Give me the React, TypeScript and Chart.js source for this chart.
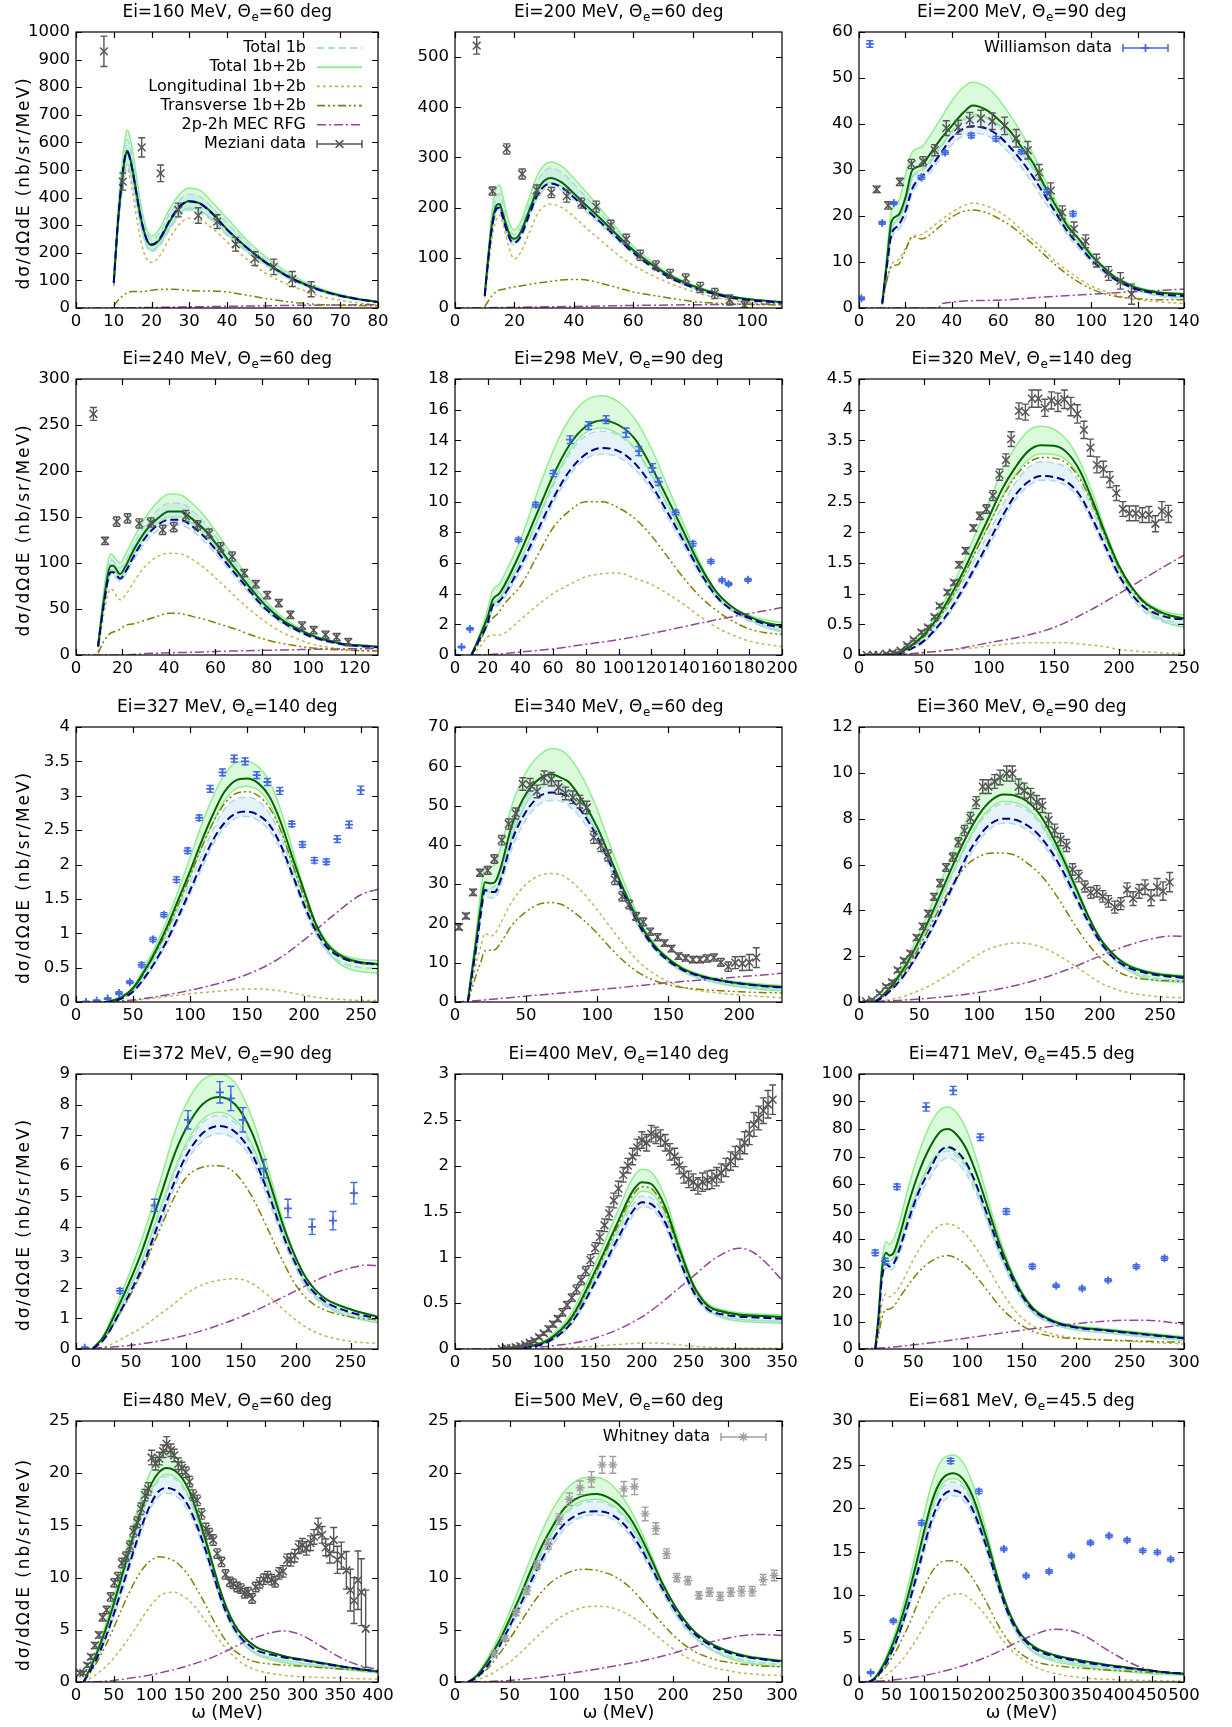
import React, { useEffect, useRef } from "react";
import { Chart, registerables } from "chart.js";
Chart.register(...registerables);

const FONT = "'DejaVu Sans', 'Noto Sans', sans-serif";

// ================= Panel 1: Ei=160 MeV, 60 deg =================
const p1_w = [10, 11, 12, 13, 13.5, 14, 15, 16, 17, 18, 19, 20, 22, 25, 28, 30, 33, 36, 40, 45, 50, 55, 60, 65, 70, 75, 80];
const p1_c2 = [90, 290, 440, 545, 570, 560, 500, 420, 340, 280, 240, 228, 245, 318, 372, 388, 378, 345, 285, 222, 168, 124, 90, 64, 45, 32, 22];
const p1_c1 = [92, 295, 445, 550, 565, 555, 495, 415, 337, 278, 240, 230, 248, 322, 376, 386, 376, 343, 284, 221, 167, 123, 89, 63, 44, 31, 21];
const p1_gh = [95, 330, 500, 610, 645, 635, 570, 480, 390, 320, 275, 260, 285, 365, 420, 435, 425, 385, 325, 250, 188, 138, 98, 70, 48, 34, 24];
const p1_gl = [80, 270, 410, 500, 520, 515, 460, 385, 310, 255, 220, 210, 228, 295, 348, 362, 352, 322, 268, 210, 160, 118, 85, 60, 42, 30, 20];
const p1_bh = [88, 310, 470, 580, 610, 600, 540, 455, 370, 305, 262, 248, 270, 345, 398, 412, 402, 365, 308, 238, 178, 130, 93, 66, 46, 33, 23];
const p1_bl = [78, 262, 398, 488, 508, 503, 448, 376, 303, 248, 214, 204, 222, 288, 340, 355, 345, 316, 263, 206, 157, 116, 83, 59, 41, 29, 20];
const p1_lo = [80, 280, 420, 495, 505, 490, 420, 330, 255, 200, 172, 165, 185, 258, 312, 325, 318, 290, 240, 180, 128, 92, 65, 42, 28, 18, 12];
const p1_tr = [8, 25, 40, 50, 55, 58, 60, 60, 59, 60, 62, 64, 67, 68, 66, 63, 62, 62, 58, 47, 35, 25, 17, 12, 10, 9, 8];
const p1_mw = [0, 10, 20, 30, 40, 50, 60, 70, 80];
const p1_mec = [0, 0.5, 2, 4, 6, 8, 10, 11, 12];
const p1_mzX = [7.4, 12.4, 17.4, 22.4, 27.1, 32.4, 37.4, 42.3, 47.4, 52.4, 57.3, 62.3];
const p1_mzY = [930, 458, 582, 488, 355, 335, 313, 231, 179, 149, 105, 68];
const p1_mzE = [55, 31, 35, 30, 25, 28, 25, 25, 25, 28, 27, 27];

// ================= Panel 2: Ei=200 MeV, 60 deg =================
const p2_w = [10, 11, 12.5, 14, 15, 16, 17.5, 19, 20, 22, 25, 28, 32, 36, 40, 45, 50, 55, 60, 70, 80, 90, 100, 110];
const p2_c2 = [25, 90, 170, 205, 207, 190, 160, 140, 138, 150, 195, 238, 259, 250, 228, 200, 172, 143, 115, 72, 44, 26, 17, 12];
const p2_c1 = [24, 85, 162, 198, 200, 182, 152, 132, 130, 142, 186, 228, 248, 240, 220, 192, 165, 137, 110, 68, 41, 24, 15, 11];
const p2_gh = [28, 100, 195, 240, 245, 225, 185, 160, 155, 170, 220, 268, 291, 282, 258, 225, 190, 155, 123, 76, 46, 27, 17, 12];
const p2_gl = [24, 85, 165, 200, 202, 185, 155, 135, 133, 145, 188, 230, 250, 242, 222, 194, 167, 139, 112, 70, 42, 25, 16, 11];
const p2_bh = [26, 95, 180, 222, 228, 210, 172, 150, 147, 160, 207, 255, 279, 270, 247, 215, 182, 150, 118, 73, 44, 26, 16, 11];
const p2_bl = [22, 80, 155, 190, 195, 178, 148, 128, 126, 138, 180, 222, 242, 234, 214, 187, 160, 133, 107, 66, 39, 23, 14, 10];
const p2_lo = [20, 70, 140, 178, 185, 170, 135, 105, 98, 110, 150, 190, 207, 200, 182, 155, 130, 105, 85, 55, 33, 18, 11, 8];
const p2_tr = [3, 12, 25, 33, 36, 37, 39, 41, 42, 44, 47, 50, 53, 56, 57, 55, 48, 40, 32, 22, 13, 9, 7, 6];
const p2_mw = [0, 10, 20, 40, 60, 80, 100, 110];
const p2_mec = [0, 0.5, 1.5, 3, 5, 6.5, 7.5, 8];
const p2_mzX = [7.3, 12.6, 17.4, 22.6, 27.5, 32.4, 37.6, 42.5, 47.5, 52.4, 57.6, 62.3, 67.6, 72.4, 77.6, 82.5, 87.4, 92.4, 97.4];
const p2_mzY = [523, 233, 317, 267, 235, 230, 223, 209, 202, 165, 137, 105, 85, 68, 59, 41, 29, 16, 6];
const p2_mzE = [17, 8, 10, 10, 10, 10, 12, 10, 11, 10, 10, 10, 9, 9, 9, 10, 10, 10, 8];

// ================= Panel 3: Ei=200 MeV, 90 deg =================
const p3_w = [10, 12, 14, 17, 20, 23, 27, 30, 35, 40, 45, 49, 55, 60, 65, 70, 75, 80, 85, 90, 95, 100, 105, 110, 115, 120, 130, 140];
const p3_c2 = [1, 10, 18.8, 20.2, 24, 30, 31, 33, 36.6, 39.6, 42.5, 44, 43, 41, 38.5, 35, 31.5, 26.5, 22, 17.7, 14.8, 11.5, 9, 6.8, 5.4, 4.3, 3.3, 3.0];
const p3_c1 = [1, 9, 16, 18, 21, 26, 28.5, 30, 33.5, 37, 39, 39.5, 39, 37.5, 35, 32, 28.5, 24.5, 20.5, 16.5, 13.5, 10.5, 8.3, 6.3, 5, 4, 3, 2.6];
const p3_gh = [1, 12, 21, 23, 29, 34, 35, 37, 41, 45, 48, 49.1, 48, 45.5, 42, 38, 33.5, 28, 23, 18.5, 15, 12, 9.2, 7, 5.6, 4.5, 3.5, 3.2];
const p3_gl = [1, 9.5, 17, 19.5, 22.5, 28.5, 30, 31.5, 35, 38.5, 41, 42, 41.5, 40, 37.5, 34, 30.5, 25.5, 21, 17, 14, 11, 8.7, 6.5, 5.1, 4, 2.8, 2.3];
const p3_bh = [1, 9.3, 16.8, 19.2, 22.2, 28.2, 29.7, 31.2, 34.7, 38.2, 40.7, 41.7, 41.2, 39.7, 37.2, 33.7, 30.2, 25.2, 20.8, 16.8, 13.8, 10.8, 8.5, 6.4, 5.0, 3.9, 2.7, 2.2];
const p3_bl = [0.8, 8.5, 15, 17, 19.5, 25, 27.5, 29, 32.5, 35.5, 37.5, 38, 37.5, 36, 33.5, 30.5, 27, 23, 19.5, 15.7, 12.7, 10, 7.8, 6, 4.7, 3.7, 2.5, 2.0];
const p3_lo = [0.8, 6, 9.5, 10.5, 13, 15.5, 16, 17, 19, 20.8, 22.2, 22.8, 22.2, 21, 19.3, 17, 14.8, 12.5, 10, 8, 6.3, 4.8, 3.8, 3, 2.2, 1.8, 1.3, 1.0];
const p3_tr = [0.8, 6, 9, 9.5, 12.5, 15.5, 15, 15.7, 17.8, 19.8, 21, 21.3, 20.7, 19.5, 18, 16, 13.8, 11.5, 9.2, 7.2, 5.5, 4.2, 3.2, 2.6, 2.2, 2.0, 1.8, 1.8];
const p3_mw = [0, 34, 36, 60, 80, 100, 120, 140];
const p3_mec = [0, 0, 1, 1.7, 2.4, 3.0, 3.6, 4.1];
const p3_mzX = [7.6, 12.6, 17.6, 22.6, 27.6, 32.6, 37.6, 42.7, 47.7, 52.5, 57.4, 62.7, 67.7, 72.7, 77.6, 82.6, 87.6, 92.6, 97.6, 102.3, 107.5, 112.6, 117.4];
const p3_mzY = [25.8, 22.3, 27.4, 31.3, 31.9, 34.3, 39.1, 39.3, 40.9, 41.2, 40.6, 39.6, 36.9, 34.3, 29.5, 25.5, 20.8, 17.2, 14.5, 10.3, 7.5, 5.9, 3.0];
const p3_mzE = [0.7, 0.8, 0.8, 1.0, 1.0, 1.2, 1.6, 1.5, 1.6, 1.8, 1.8, 1.9, 1.9, 1.9, 1.7, 1.7, 1.4, 1.5, 1.4, 1.4, 1.5, 1.8, 2.2];
const p3_wiX = [1.0, 4.7, 10, 15, 26.8, 37.1, 48.4, 59, 70, 81, 92.2];
const p3_wiY = [2.1, 57.4, 18.5, 22.8, 28.4, 33.8, 37.5, 36.8, 34.0, 25.2, 20.5];
const p3_wiE = [0.3, 0.7, 0.3, 0.3, 0.4, 0.4, 0.5, 0.5, 0.4, 0.5, 0.5];

// ================= Panel 4: Ei=240 MeV, 60 deg =================
const p4_w = [9.5, 12, 15, 16, 19, 21, 25, 30, 35, 40, 45, 50, 55, 60, 65, 70, 75, 80, 85, 90, 95, 100, 105, 110, 115, 120, 130];
const p4_c2 = [10, 60, 97, 97, 88, 95, 115, 135, 148, 156, 156, 148, 137, 122, 105, 89, 73, 58, 46, 36, 29, 23, 18, 15, 12, 11, 9];
const p4_c1 = [9, 55, 90, 90, 83, 89, 108, 128, 141, 147, 147, 140, 129, 115, 99, 84, 69, 54, 43, 34, 27, 21, 17, 14, 11.5, 10, 8.5];
const p4_gh = [11, 70, 110, 108, 100, 108, 128, 150, 166, 175, 174, 165, 152, 135, 117, 99, 81, 64, 50, 39, 31, 24, 19, 15.5, 12.5, 11, 9];
const p4_gl = [9, 55, 92, 92, 85, 91, 110, 130, 143, 150, 150, 143, 132, 118, 102, 86, 71, 56, 44, 35, 28, 22, 17.5, 14, 11.5, 10, 8.5];
const p4_bh = [10, 65, 104, 102, 95, 101, 121, 142, 157, 165, 165, 157, 145, 129, 112, 94, 77, 61, 48, 37, 30, 23, 18, 15, 12, 10.5, 8.5];
const p4_bl = [8, 52, 86, 86, 80, 86, 104, 123, 135, 141, 141, 135, 124, 110, 95, 80, 66, 52, 41, 32, 26, 20, 16, 13, 11, 9.5, 8];
const p4_lo = [3, 45, 72, 70, 60, 64, 80, 97, 107, 110.5, 110, 104, 95, 84, 72, 60, 49, 39, 30, 23, 18, 13, 10, 8, 6, 5, 4];
const p4_tr = [2, 15, 24, 25, 28, 32, 34, 38, 42, 45.5, 45, 42, 39, 35, 31, 27, 22, 18, 14.5, 12, 10, 8, 7, 6, 5.5, 5, 4.5];
const p4_mw = [0, 20, 30, 50, 70, 90, 110, 130];
const p4_mec = [0, 0, 1.5, 3, 4.5, 5.5, 6.5, 7];
const p4_mzX = [7.5, 12.5, 17.5, 22.2, 27.2, 32.2, 37.3, 42.1, 47.3, 52.3, 57.3, 62.2, 67.2, 72.4, 77.4, 82.3, 87.3, 92.3, 97.3, 102.3, 107.4, 112.2, 117.2];
const p4_mzY = [262, 124, 145, 148.5, 143, 144, 136, 139, 151, 141, 132, 117, 107, 89, 77, 65, 56.5, 43.5, 32, 27, 22, 19.5, 14];
const p4_mzE = [7, 4, 5, 5, 5, 5, 5, 5, 6, 5, 5, 5, 5, 4, 4, 4, 4, 4, 4, 4, 4, 4, 4];

// ================= Panel 5: Ei=298 MeV, 90 deg =================
const p5_w = [10, 15, 20, 23, 27, 30, 40, 50, 60, 70, 80, 90, 100, 110, 120, 130, 140, 150, 160, 170, 180, 190, 200];
const p5_c2 = [0, 1.2, 2.5, 3.6, 4.0, 4.5, 6.7, 9.2, 11.7, 13.7, 14.9, 15.3, 15.0, 14.1, 12.3, 10.2, 8.0, 5.8, 4.1, 3.1, 2.5, 2.1, 1.9];
const p5_c1 = [0, 1.0, 2.1, 3.2, 3.5, 3.9, 5.8, 8.0, 10.2, 12.0, 13.1, 13.5, 13.3, 12.5, 11.1, 9.3, 7.4, 5.4, 3.8, 2.9, 2.4, 2.0, 1.8];
const p5_gh = [0, 1.3, 3.0, 4.2, 4.6, 5.2, 7.5, 10.5, 13.3, 15.4, 16.6, 16.9, 16.5, 15.4, 13.5, 11.0, 8.5, 6.0, 4.1, 3.1, 2.6, 2.3, 2.1];
const p5_gl = [0, 1.1, 2.4, 3.3, 3.7, 4.2, 6.2, 8.7, 11.2, 13.3, 14.5, 14.8, 14.4, 13.5, 11.8, 9.8, 7.7, 5.6, 3.9, 2.9, 2.3, 1.8, 1.5];
const p5_bh = [0, 1.1, 2.3, 3.2, 3.6, 4.1, 6.1, 8.6, 11.0, 13.1, 14.3, 14.6, 14.3, 13.4, 11.7, 9.7, 7.6, 5.5, 3.9, 2.9, 2.3, 1.9, 1.6];
const p5_bl = [0, 0.9, 2.0, 3.0, 3.3, 3.7, 5.5, 7.7, 9.9, 11.7, 12.8, 13.1, 12.9, 12.1, 10.8, 9.0, 7.1, 5.2, 3.7, 2.8, 2.2, 1.8, 1.5];
const p5_lo = [0, 0.5, 1.2, 1.3, 1.3, 1.4, 2.3, 3.2, 4.0, 4.6, 5.1, 5.3, 5.35, 5.0, 4.6, 4.0, 3.3, 2.5, 1.8, 1.3, 0.9, 0.7, 0.55];
const p5_tr = [0, 0.8, 2.0, 2.4, 2.8, 3.3, 4.5, 6.4, 8.3, 9.4, 10.0, 10.0, 9.6, 8.9, 7.8, 6.4, 5.0, 3.8, 2.9, 2.2, 1.7, 1.45, 1.35];
const p5_mw = [0, 20, 40, 60, 80, 100, 120, 140, 160, 180, 200];
const p5_mec = [0, 0.02, 0.2, 0.4, 0.7, 1.0, 1.4, 1.85, 2.3, 2.7, 3.1];
const p5_wiX = [0, 4, 9.2, 38.8, 49.4, 60.2, 70.4, 81.6, 92.4, 104.7, 112.4, 120.8, 124.5, 135, 145.5, 156.5, 163.3, 167.3, 179.2];
const p5_wiY = [0, 0.52, 1.7, 7.52, 9.8, 11.83, 14.04, 14.96, 15.35, 14.5, 13.3, 12.2, 11.3, 9.3, 7.26, 6.1, 4.87, 4.63, 4.9];
const p5_wiE = [0.03, 0.05, 0.08, 0.12, 0.15, 0.2, 0.25, 0.25, 0.25, 0.3, 0.3, 0.28, 0.25, 0.15, 0.15, 0.12, 0.1, 0.1, 0.1];

// ================= Panel 6: Ei=320 MeV, 140 deg =================
const p6_w = [20, 30, 40, 50, 60, 70, 80, 90, 100, 110, 120, 130, 140, 150, 160, 170, 180, 190, 200, 210, 220, 230, 240, 250];
const p6_c2 = [0, 0.04, 0.15, 0.33, 0.6, 0.95, 1.35, 1.8, 2.25, 2.7, 3.05, 3.32, 3.42, 3.41, 3.3, 3.0, 2.5, 1.95, 1.45, 1.1, 0.85, 0.72, 0.64, 0.6];
const p6_c1 = [0, 0.02, 0.1, 0.23, 0.45, 0.73, 1.08, 1.46, 1.85, 2.25, 2.6, 2.82, 2.92, 2.9, 2.82, 2.6, 2.2, 1.75, 1.3, 0.98, 0.77, 0.66, 0.6, 0.58];
const p6_gh = [0, 0.05, 0.17, 0.37, 0.67, 1.05, 1.5, 2.0, 2.5, 3.0, 3.38, 3.65, 3.73, 3.68, 3.5, 3.15, 2.62, 2.0, 1.47, 1.1, 0.88, 0.75, 0.68, 0.65];
const p6_gl = [0, 0.035, 0.14, 0.3, 0.56, 0.88, 1.27, 1.7, 2.13, 2.57, 2.93, 3.18, 3.28, 3.27, 3.17, 2.9, 2.43, 1.88, 1.38, 1.02, 0.75, 0.6, 0.5, 0.45];
const p6_bh = [0, 0.03, 0.13, 0.28, 0.52, 0.83, 1.2, 1.6, 2.0, 2.42, 2.8, 3.05, 3.15, 3.13, 3.05, 2.8, 2.35, 1.82, 1.33, 1.0, 0.75, 0.62, 0.55, 0.5];
const p6_bl = [0, 0.02, 0.09, 0.21, 0.42, 0.69, 1.03, 1.4, 1.78, 2.17, 2.52, 2.75, 2.85, 2.84, 2.75, 2.53, 2.13, 1.68, 1.25, 0.92, 0.7, 0.57, 0.5, 0.47];
const p6_lo = [0, 0.01, 0.02, 0.04, 0.06, 0.08, 0.1, 0.12, 0.15, 0.17, 0.19, 0.2, 0.2, 0.2, 0.2, 0.18, 0.16, 0.13, 0.09, 0.07, 0.05, 0.04, 0.03, 0.03];
const p6_tr = [0, 0.03, 0.13, 0.3, 0.55, 0.88, 1.27, 1.7, 2.12, 2.55, 2.9, 3.13, 3.22, 3.21, 3.12, 2.87, 2.43, 1.9, 1.42, 1.07, 0.83, 0.7, 0.62, 0.58];
const p6_mw = [0, 25, 50, 75, 100, 125, 150, 175, 200, 225, 250];
const p6_mec = [0, 0.005, 0.04, 0.1, 0.2, 0.3, 0.45, 0.7, 1.0, 1.32, 1.63];
const p6_mzX = [6, 11, 15, 21, 26, 32, 37, 42, 48, 53, 58, 62, 68, 73, 77, 82, 88, 93, 98, 103, 108, 113, 117, 123, 128, 133, 138, 143, 148, 153, 158, 163, 168, 173, 178, 183, 188, 193, 198, 203, 208, 213, 218, 223, 228, 233, 238];
const p6_mzY = [0, 0, 0, 0.02, 0.04, 0.07, 0.16, 0.25, 0.37, 0.45, 0.62, 0.8, 1.02, 1.18, 1.47, 1.7, 2.07, 2.27, 2.38, 2.6, 2.94, 3.18, 3.52, 3.98, 3.96, 4.18, 4.18, 4.03, 4.15, 4.12, 4.17, 4.05, 3.93, 3.67, 3.38, 3.1, 3.03, 2.86, 2.64, 2.38, 2.31, 2.31, 2.28, 2.29, 2.14, 2.35, 2.3];
const p6_mzE = [0.01, 0.01, 0.01, 0.01, 0.02, 0.02, 0.02, 0.02, 0.03, 0.03, 0.03, 0.03, 0.04, 0.04, 0.05, 0.05, 0.05, 0.06, 0.07, 0.08, 0.09, 0.1, 0.12, 0.13, 0.13, 0.14, 0.14, 0.14, 0.14, 0.15, 0.15, 0.15, 0.15, 0.14, 0.14, 0.13, 0.13, 0.13, 0.12, 0.12, 0.12, 0.12, 0.12, 0.13, 0.13, 0.15, 0.14];

// ================= Panel 7: Ei=327 MeV, 140 deg =================
const p7_w = [25, 30, 40, 50, 60, 70, 80, 90, 100, 110, 120, 130, 140, 150, 160, 170, 180, 190, 200, 210, 220, 230, 240, 250, 265];
const p7_c2 = [0, 0.01, 0.07, 0.2, 0.45, 0.75, 1.1, 1.5, 1.9, 2.33, 2.72, 3.05, 3.22, 3.25, 3.18, 2.98, 2.6, 2.1, 1.62, 1.15, 0.85, 0.7, 0.62, 0.58, 0.55];
const p7_c1 = [0, 0.005, 0.05, 0.15, 0.35, 0.6, 0.9, 1.25, 1.62, 2.0, 2.35, 2.6, 2.74, 2.77, 2.72, 2.57, 2.27, 1.85, 1.42, 1.05, 0.8, 0.67, 0.6, 0.57, 0.55];
const p7_gh = [0, 0.01, 0.08, 0.22, 0.5, 0.82, 1.2, 1.63, 2.1, 2.57, 2.98, 3.3, 3.48, 3.5, 3.42, 3.2, 2.78, 2.22, 1.65, 1.17, 0.88, 0.72, 0.65, 0.62, 0.6];
const p7_gl = [0, 0.01, 0.06, 0.18, 0.42, 0.7, 1.03, 1.41, 1.82, 2.23, 2.6, 2.92, 3.1, 3.14, 3.08, 2.88, 2.5, 2.0, 1.5, 1.07, 0.75, 0.57, 0.48, 0.44, 0.42];
const p7_bh = [0, 0.01, 0.06, 0.17, 0.4, 0.67, 0.99, 1.35, 1.74, 2.13, 2.5, 2.8, 2.95, 2.98, 2.92, 2.74, 2.4, 1.92, 1.45, 1.04, 0.76, 0.6, 0.53, 0.5, 0.48];
const p7_bl = [0, 0.005, 0.045, 0.14, 0.33, 0.57, 0.86, 1.2, 1.56, 1.93, 2.28, 2.53, 2.67, 2.7, 2.64, 2.49, 2.2, 1.79, 1.36, 0.99, 0.73, 0.6, 0.53, 0.5, 0.48];
const p7_lo = [0, 0.005, 0.01, 0.02, 0.04, 0.06, 0.08, 0.1, 0.12, 0.135, 0.15, 0.165, 0.18, 0.19, 0.19, 0.18, 0.16, 0.13, 0.1, 0.07, 0.05, 0.04, 0.03, 0.025, 0.02];
const p7_tr = [0, 0.01, 0.065, 0.19, 0.43, 0.72, 1.05, 1.43, 1.83, 2.24, 2.6, 2.88, 3.03, 3.06, 3.0, 2.82, 2.48, 2.0, 1.54, 1.12, 0.83, 0.68, 0.6, 0.56, 0.54];
const p7_mw = [0, 25, 50, 75, 100, 125, 150, 175, 200, 225, 250, 265];
const p7_mec = [0, 0.005, 0.03, 0.09, 0.17, 0.27, 0.4, 0.6, 0.9, 1.25, 1.56, 1.64];
const p7_wiX = [8.8, 18.1, 27.8, 37.7, 47.3, 57.6, 67.5, 77.1, 88.2, 97.9, 108.1, 117.7, 128.5, 138.8, 148.4, 158.6, 168, 178.8, 189.3, 198.7, 209.2, 219.7, 229.3, 239.6, 249.8];
const p7_wiY = [0, 0.02, 0.05, 0.13, 0.29, 0.54, 0.91, 1.27, 1.78, 2.2, 2.68, 3.1, 3.34, 3.54, 3.5, 3.3, 3.2, 3.07, 2.59, 2.29, 2.06, 2.04, 2.37, 2.58, 3.08];
const p7_wiE = [0.01, 0.01, 0.01, 0.02, 0.02, 0.03, 0.03, 0.03, 0.04, 0.04, 0.04, 0.05, 0.05, 0.05, 0.05, 0.05, 0.05, 0.05, 0.04, 0.04, 0.04, 0.04, 0.05, 0.05, 0.06];

// ================= Panel 8: Ei=340 MeV, 60 deg =================
const p8_w = [9, 12, 15, 18, 21, 25, 28, 32, 40, 50, 60, 68, 75, 80, 90, 100, 110, 120, 130, 140, 150, 160, 170, 180, 190, 200, 215, 230];
const p8_c2 = [0, 8, 16, 24, 30.5, 30.2, 30.5, 34, 45, 53, 57, 58, 57, 56, 51, 44.5, 36, 27.5, 20, 14.5, 11, 8.5, 7, 6, 5.3, 4.8, 4.2, 3.8];
const p8_c1 = [0, 7, 14, 22, 28.5, 28, 28, 31, 41, 48.5, 52.5, 53.3, 53, 52, 48, 42, 34.5, 26.5, 19.2, 14, 10.5, 8.2, 6.8, 5.9, 5.2, 4.7, 4.1, 3.7];
const p8_gh = [0, 9, 18, 28, 34.5, 34.5, 35, 39, 50, 58.5, 63, 64.5, 64, 62.5, 57, 49, 39, 29.5, 21, 15, 11.3, 8.8, 7.3, 6.3, 5.6, 5.1, 4.6, 4.2];
const p8_gl = [0, 7, 14, 22, 28, 28, 28, 31.5, 42, 50.5, 54.5, 55.5, 54.5, 53.5, 49, 43, 35, 26.5, 19.2, 13.8, 10.3, 7.8, 6.2, 5.2, 4.4, 3.8, 3.2, 2.8];
const p8_bh = [0, 7.5, 15, 23, 29, 29, 29.5, 33, 43.5, 52, 55.5, 56.3, 55.5, 54.5, 49.5, 43, 35, 26.5, 19.2, 14, 10.5, 8, 6.5, 5.5, 4.8, 4.3, 3.8, 3.4];
const p8_bl = [0, 6.5, 13, 21, 27, 26.5, 26.5, 29.5, 39, 46.5, 50.5, 51.3, 51, 50, 46, 40.5, 33.2, 25.5, 18.5, 13.4, 10, 7.7, 6.2, 5.3, 4.6, 4.1, 3.5, 3.1];
const p8_lo = [0, 5, 10, 14, 17.5, 16.8, 17.3, 20, 25.5, 30, 32.3, 32.7, 32.3, 31.2, 27.8, 23.5, 18.7, 14, 10, 7.2, 5.2, 3.8, 3, 2.5, 2.1, 1.8, 1.4, 1.1];
const p8_tr = [0, 3.5, 7, 10, 13, 13.2, 13.3, 15, 19.5, 23, 25, 25.3, 24.8, 23.8, 21, 17.5, 13.5, 10, 7.3, 5.5, 4.4, 3.7, 3.3, 3, 2.8, 2.6, 2.4, 2.3];
const p8_mw = [0, 10, 50, 100, 150, 200, 230];
const p8_mec = [0, 0.2, 1.5, 3.1, 4.9, 6.4, 7.3];
const p8_mzX = [2.8, 7.7, 12.7, 17.6, 23, 27.7, 32.9, 37.8, 42.7, 47.6, 52.8, 57.7, 62.7, 67.8, 72.8, 77.7, 82.8, 87.8, 92.7, 97.6, 102.6, 107.5, 112.4, 117.6, 122.5, 127.4, 132.4, 137.3, 142.5, 147.4, 152.3, 157.2, 162.2, 167.3, 172.3, 177.2, 182.1, 187, 192.2, 197.1, 202.1, 207, 211.9];
const p8_mzY = [19.1, 21.9, 27.9, 32.9, 33.5, 36.4, 41.2, 45.3, 48, 55.5, 55.3, 53.6, 57.1, 56.7, 54.6, 53.1, 52.1, 51, 49.5, 41.9, 39.8, 37.3, 31.2, 26.9, 24.8, 21.8, 20.4, 17.9, 16.5, 15, 13.6, 11.7, 11.2, 10.8, 10.8, 11.1, 11.3, 10.1, 9.0, 10.0, 9.8, 10.1, 11.3];
const p8_mzE = [0.7, 0.7, 0.8, 0.9, 1.0, 1.1, 1.2, 1.3, 1.4, 1.6, 1.6, 1.6, 1.7, 1.7, 1.7, 1.6, 1.6, 1.6, 1.6, 1.5, 1.5, 1.4, 1.3, 1.2, 1.1, 1.0, 1.0, 0.9, 0.9, 0.8, 0.8, 0.8, 0.8, 0.8, 0.8, 0.9, 0.9, 1.0, 1.2, 1.5, 1.8, 2.0, 2.5];

// ================= Panel 9: Ei=360 MeV, 90 deg =================
const p9_w = [13, 20, 30, 40, 50, 60, 70, 80, 90, 100, 110, 120, 130, 140, 150, 160, 170, 180, 190, 200, 210, 220, 230, 240, 250, 260, 270];
const p9_c2 = [0, 0.3, 0.9, 1.7, 2.7, 3.8, 5.0, 6.2, 7.3, 8.2, 8.8, 9.05, 9.0, 8.75, 8.2, 7.3, 6.2, 5.0, 3.8, 2.8, 2.15, 1.7, 1.45, 1.3, 1.2, 1.15, 1.1];
const p9_c1 = [0, 0.22, 0.7, 1.35, 2.2, 3.15, 4.2, 5.3, 6.4, 7.25, 7.8, 8.0, 7.95, 7.7, 7.25, 6.55, 5.65, 4.6, 3.55, 2.65, 2.0, 1.6, 1.38, 1.25, 1.15, 1.1, 1.05];
const p9_gh = [0, 0.35, 1.0, 1.9, 3.0, 4.2, 5.5, 6.8, 8.0, 9.0, 9.6, 9.8, 9.75, 9.4, 8.7, 7.7, 6.4, 5.1, 3.85, 2.8, 2.15, 1.75, 1.5, 1.35, 1.25, 1.2, 1.15];
const p9_gl = [0, 0.28, 0.85, 1.6, 2.55, 3.6, 4.75, 5.9, 7.0, 7.9, 8.5, 8.75, 8.7, 8.45, 7.9, 7.05, 6.0, 4.85, 3.7, 2.7, 2.0, 1.5, 1.2, 1.0, 0.92, 0.88, 0.85];
const p9_bh = [0, 0.27, 0.83, 1.57, 2.5, 3.55, 4.68, 5.8, 6.9, 7.8, 8.4, 8.65, 8.6, 8.35, 7.8, 6.95, 5.9, 4.75, 3.6, 2.65, 2.0, 1.55, 1.28, 1.12, 1.02, 0.97, 0.93];
const p9_bl = [0, 0.2, 0.66, 1.3, 2.12, 3.05, 4.08, 5.15, 6.2, 7.05, 7.6, 7.8, 7.75, 7.5, 7.05, 6.35, 5.45, 4.45, 3.42, 2.55, 1.92, 1.5, 1.25, 1.1, 1.0, 0.95, 0.92];
const p9_lo = [0, 0.05, 0.15, 0.3, 0.5, 0.75, 1.05, 1.4, 1.75, 2.1, 2.35, 2.5, 2.58, 2.55, 2.42, 2.2, 1.9, 1.55, 1.2, 0.85, 0.62, 0.45, 0.35, 0.28, 0.23, 0.2, 0.18];
const p9_tr = [0, 0.25, 0.8, 1.5, 2.4, 3.4, 4.4, 5.3, 6.0, 6.35, 6.5, 6.5, 6.4, 6.05, 5.6, 4.95, 4.15, 3.3, 2.55, 1.95, 1.5, 1.2, 1.05, 0.98, 0.94, 0.92, 0.9];
const p9_mw = [0, 25, 50, 75, 100, 125, 150, 175, 200, 225, 250, 260, 270];
const p9_mec = [0, 0.05, 0.13, 0.25, 0.42, 0.66, 1.0, 1.45, 2.0, 2.5, 2.83, 2.88, 2.87];
const p9_mzX = [5.8, 10.8, 17.1, 22.4, 27.4, 32.1, 37.3, 42.6, 47.8, 52.8, 57.5, 62.4, 67.4, 72.4, 77.9, 82.6, 87.6, 92.6, 97.3, 102.8, 107.5, 112.7, 117.2, 122.7, 127.4, 132.6, 137.3, 142.6, 147.6, 152.3, 157.5, 162.5, 167.5, 172.4, 177.4, 182.6, 187.6, 192.6, 197.6, 202.5, 207.2, 212.5, 217.5, 222.7, 227.7, 232.7, 237.6, 242.6, 247.6, 252.6, 258.1];
const p9_mzY = [0.03, 0.09, 0.38, 0.67, 0.87, 1.39, 1.8, 2.12, 2.81, 3.3, 3.86, 4.59, 5.19, 5.87, 6.32, 6.97, 7.48, 8.03, 8.7, 9.4, 9.4, 9.62, 9.8, 9.97, 9.97, 9.4, 9.22, 9.0, 8.71, 8.57, 7.94, 7.48, 7.09, 6.83, 5.78, 5.49, 5.04, 4.77, 4.83, 4.61, 4.39, 4.14, 4.29, 4.9, 4.51, 4.83, 5.01, 4.55, 5.01, 4.84, 5.23];
const p9_mzE = [0.03, 0.04, 0.06, 0.07, 0.08, 0.09, 0.1, 0.11, 0.12, 0.13, 0.14, 0.15, 0.16, 0.17, 0.18, 0.2, 0.22, 0.24, 0.26, 0.3, 0.3, 0.3, 0.32, 0.33, 0.33, 0.33, 0.33, 0.32, 0.3, 0.3, 0.3, 0.28, 0.27, 0.26, 0.25, 0.25, 0.24, 0.24, 0.25, 0.25, 0.25, 0.26, 0.26, 0.3, 0.3, 0.3, 0.32, 0.35, 0.38, 0.4, 0.42];

// ================= Panel 10: Ei=372 MeV, 90 deg =================
const p10_w = [15, 25, 40, 50, 60, 75, 90, 100, 115, 130, 145, 160, 175, 190, 200, 210, 225, 250, 275];
const p10_c2 = [0, 0.4, 1.5, 2.3, 3.2, 4.8, 6.4, 7.2, 8.0, 8.25, 8.0, 7.1, 5.6, 3.9, 3.0, 2.3, 1.7, 1.3, 1.05];
const p10_c1 = [0, 0.3, 1.2, 1.9, 2.65, 4.1, 5.5, 6.3, 7.05, 7.3, 7.1, 6.4, 5.1, 3.6, 2.8, 2.15, 1.6, 1.2, 1.0];
const p10_gh = [0, 0.45, 1.7, 2.6, 3.6, 5.3, 7.1, 8.0, 8.8, 9.0, 8.7, 7.6, 5.9, 4.0, 3.0, 2.3, 1.7, 1.3, 1.05];
const p10_gl = [0, 0.35, 1.35, 2.1, 2.9, 4.4, 5.9, 6.7, 7.5, 7.75, 7.5, 6.7, 5.3, 3.7, 2.8, 2.1, 1.5, 1.05, 0.85];
const p10_bh = [0, 0.34, 1.3, 2.05, 2.85, 4.3, 5.8, 6.6, 7.4, 7.65, 7.4, 6.6, 5.2, 3.65, 2.75, 2.1, 1.55, 1.15, 0.95];
const p10_bl = [0, 0.28, 1.1, 1.8, 2.5, 3.9, 5.3, 6.1, 6.8, 7.05, 6.85, 6.2, 4.9, 3.45, 2.65, 2.0, 1.45, 1.05, 0.88];
const p10_lo = [0, 0.05, 0.3, 0.5, 0.7, 1.1, 1.5, 1.8, 2.1, 2.25, 2.3, 2.15, 1.75, 1.25, 0.95, 0.7, 0.45, 0.25, 0.18];
const p10_tr = [0, 0.3, 1.2, 1.8, 2.55, 3.8, 5.0, 5.6, 5.95, 6.0, 5.75, 5.0, 3.9, 2.75, 2.1, 1.65, 1.3, 1.05, 0.95];
const p10_mw = [0, 50, 100, 150, 200, 225, 250, 265, 275];
const p10_mec = [0, 0.12, 0.45, 1.05, 1.9, 2.35, 2.65, 2.75, 2.72];
const p10_wiX = [8, 40, 71.5, 102, 131, 141, 152, 171, 193, 215, 234, 253];
const p10_wiY = [0.04, 1.9, 4.7, 7.5, 8.4, 8.2, 7.5, 5.9, 4.6, 4.0, 4.2, 5.1];
const p10_wiE = [0.03, 0.08, 0.2, 0.3, 0.35, 0.4, 0.4, 0.3, 0.3, 0.25, 0.3, 0.35];

// ================= Panel 11: Ei=400 MeV, 140 deg =================
const p11_w = [60, 80, 100, 125, 150, 175, 190, 200, 210, 225, 240, 255, 270, 290, 310, 330, 350];
const p11_c2 = [0, 0.03, 0.1, 0.35, 0.85, 1.4, 1.72, 1.82, 1.8, 1.55, 1.1, 0.7, 0.48, 0.4, 0.37, 0.36, 0.35];
const p11_c1 = [0, 0.02, 0.08, 0.29, 0.73, 1.22, 1.5, 1.6, 1.58, 1.38, 0.98, 0.63, 0.44, 0.37, 0.35, 0.34, 0.33];
const p11_gh = [0, 0.035, 0.12, 0.4, 0.93, 1.52, 1.86, 1.96, 1.93, 1.65, 1.15, 0.72, 0.5, 0.42, 0.39, 0.38, 0.37];
const p11_gl = [0, 0.025, 0.09, 0.32, 0.8, 1.32, 1.62, 1.72, 1.7, 1.47, 1.04, 0.65, 0.43, 0.33, 0.3, 0.29, 0.28];
const p11_bh = [0, 0.025, 0.09, 0.31, 0.77, 1.28, 1.57, 1.67, 1.65, 1.43, 1.01, 0.64, 0.43, 0.35, 0.32, 0.31, 0.3];
const p11_bl = [0, 0.02, 0.075, 0.27, 0.7, 1.17, 1.45, 1.55, 1.53, 1.33, 0.94, 0.6, 0.41, 0.34, 0.32, 0.31, 0.3];
const p11_lo = [0, 0.002, 0.005, 0.015, 0.03, 0.05, 0.06, 0.065, 0.065, 0.06, 0.045, 0.03, 0.02, 0.012, 0.01, 0.008, 0.007];
const p11_tr = [0, 0.03, 0.095, 0.33, 0.82, 1.36, 1.67, 1.77, 1.75, 1.5, 1.07, 0.68, 0.47, 0.39, 0.36, 0.35, 0.34];
const p11_mw = [0, 50, 100, 150, 200, 250, 280, 305, 320, 335, 350];
const p11_mec = [0, 0.005, 0.03, 0.12, 0.35, 0.75, 1.0, 1.1, 1.05, 0.92, 0.75];
const p11_mzX = [50, 55, 60, 65, 70, 75, 80, 85, 90, 95, 100, 105, 110, 115, 120, 125, 130, 135, 140, 145, 150, 155, 160, 165, 170, 175, 180, 185, 190, 195, 200, 205, 210, 215, 220, 225, 230, 235, 240, 245, 250, 255, 260, 265, 270, 275, 280, 285, 290, 295, 300, 305, 310, 315, 320, 325, 330, 335, 340];
const p11_mzY = [0, 0.01, 0.01, 0.02, 0.03, 0.05, 0.07, 0.09, 0.13, 0.17, 0.22, 0.27, 0.33, 0.4, 0.48, 0.56, 0.65, 0.75, 0.85, 0.97, 1.1, 1.22, 1.35, 1.48, 1.62, 1.75, 1.9, 2.0, 2.1, 2.2, 2.28, 2.25, 2.35, 2.33, 2.3, 2.25, 2.15, 2.1, 2.0, 1.9, 1.85, 1.82, 1.78, 1.82, 1.84, 1.85, 1.88, 1.92, 1.98, 2.05, 2.1, 2.18, 2.25, 2.35, 2.45, 2.52, 2.6, 2.67, 2.72];
const p11_mzE = [0.01, 0.01, 0.01, 0.01, 0.01, 0.01, 0.02, 0.02, 0.02, 0.02, 0.03, 0.03, 0.03, 0.04, 0.04, 0.04, 0.05, 0.05, 0.05, 0.06, 0.06, 0.07, 0.07, 0.07, 0.08, 0.08, 0.08, 0.08, 0.09, 0.09, 0.09, 0.09, 0.09, 0.09, 0.09, 0.09, 0.09, 0.09, 0.09, 0.09, 0.09, 0.09, 0.09, 0.1, 0.1, 0.1, 0.1, 0.1, 0.1, 0.1, 0.11, 0.11, 0.12, 0.12, 0.13, 0.13, 0.14, 0.15, 0.16];

// ================= Panel 12: Ei=471 MeV, 45.5 deg =================
const p12_w = [15, 18, 21, 25, 28, 32, 38, 45, 55, 65, 75, 82, 90, 100, 110, 120, 130, 145, 160, 180, 200, 225, 250, 275, 300];
const p12_c2 = [0, 12, 28, 35, 34, 35, 42, 52, 64, 73, 79, 80, 78, 72, 62, 50, 38, 24, 15, 10, 8, 7, 6, 5, 4];
const p12_c1 = [0, 10, 25, 31, 30, 31, 37, 46, 57, 65, 72, 73.5, 72, 67, 58, 47, 36, 23, 14.5, 9.8, 7.8, 6.8, 5.8, 4.8, 3.9];
const p12_gh = [0, 13, 31, 39, 38, 40, 47, 58, 71, 81, 87, 88, 86, 79, 67, 53, 40, 25, 15.5, 10.5, 8.5, 7.5, 6.5, 5.5, 4.5];
const p12_gl = [0, 11, 26, 33, 32, 33, 39, 48, 59, 67, 72, 73, 71, 66, 57, 46, 35, 22, 13.5, 9, 7, 6, 5, 4, 3.2];
const p12_bh = [0, 11, 26, 32, 31, 32, 38, 47, 58, 66, 71, 72, 70, 65, 56, 45, 34, 21.5, 13.5, 9, 7, 6, 5, 4, 3.2];
const p12_bl = [0, 9.5, 24, 29.5, 28.5, 29.5, 35, 44, 54.5, 62, 68, 69.5, 68, 63, 55, 44.5, 34, 21.5, 13.5, 9, 7, 6, 5, 4, 3.2];
const p12_lo = [0, 6, 16, 20, 19, 20, 23, 28.5, 36, 41.5, 45, 45.5, 44.5, 41, 35.5, 29, 22, 13.5, 8.5, 5.3, 4, 3.3, 2.8, 2.3, 1.8];
const p12_tr = [0, 5, 11, 14.5, 14.5, 15.5, 19, 23, 28, 31.5, 33.5, 34, 33, 30, 25.5, 20.5, 15.5, 10, 6.5, 4.5, 3.8, 3.3, 3, 2.7, 2.4];
const p12_mw = [0, 25, 50, 100, 150, 200, 250, 275, 300];
const p12_mec = [0, 0.5, 1.5, 4, 6.8, 9.2, 10.5, 10.2, 9];
const p12_wiX = [15, 24, 35, 62, 87, 112, 136, 160, 182, 206, 230, 256, 282];
const p12_wiY = [35, 32, 59, 88, 94, 77, 50, 30, 23, 22, 25, 30, 33];
const p12_wiE = [1, 1, 1, 1.5, 1.5, 1.2, 1, 0.8, 0.6, 0.6, 0.6, 0.7, 0.7];

// ================= Panel 13: Ei=480 MeV, 60 deg =================
const p13_w = [10, 20, 30, 40, 50, 60, 70, 80, 90, 100, 110, 120, 130, 140, 150, 160, 170, 180, 190, 200, 210, 220, 230, 240, 260, 280, 300, 320, 340, 360, 380, 400];
const p13_c2 = [0, 1.5, 3.2, 5.2, 7.5, 10.0, 12.5, 15.0, 17.2, 19.0, 20.1, 20.5, 20.3, 19.6, 18.3, 16.3, 14.0, 11.5, 9.0, 7.0, 5.5, 4.5, 3.8, 3.3, 2.8, 2.4, 2.15, 1.9, 1.65, 1.4, 1.2, 1.0];
const p13_c1 = [0, 1.2, 2.65, 4.4, 6.5, 8.8, 11.1, 13.4, 15.5, 17.2, 18.3, 18.6, 18.4, 17.8, 16.7, 15.0, 13.0, 10.7, 8.4, 6.5, 5.1, 4.1, 3.5, 3.0, 2.6, 2.3, 2.1, 1.85, 1.6, 1.4, 1.2, 1.0];
const p13_gh = [0, 1.7, 3.5, 5.7, 8.2, 10.9, 13.6, 16.2, 18.5, 20.4, 21.5, 21.9, 21.6, 20.8, 19.3, 17.0, 14.4, 11.7, 9.1, 7.0, 5.5, 4.5, 3.8, 3.3, 2.8, 2.4, 2.15, 1.9, 1.65, 1.4, 1.2, 1.05];
const p13_gl = [0, 1.4, 3.0, 4.9, 7.1, 9.5, 12.0, 14.4, 16.6, 18.4, 19.5, 19.9, 19.7, 19.0, 17.7, 15.8, 13.5, 11.0, 8.6, 6.6, 5.0, 3.9, 3.1, 2.6, 2.1, 1.8, 1.6, 1.45, 1.3, 1.15, 1.0, 0.85];
const p13_bh = [0, 1.35, 2.95, 4.85, 7.0, 9.4, 11.9, 14.3, 16.5, 18.2, 19.3, 19.7, 19.5, 18.8, 17.5, 15.6, 13.3, 10.8, 8.5, 6.5, 5.0, 3.9, 3.2, 2.7, 2.3, 2.0, 1.8, 1.6, 1.45, 1.3, 1.15, 1.0];
const p13_bl = [0, 1.1, 2.5, 4.2, 6.2, 8.4, 10.7, 13.0, 15.1, 16.8, 17.8, 18.1, 17.9, 17.3, 16.2, 14.6, 12.6, 10.3, 8.1, 6.2, 4.8, 3.8, 3.1, 2.7, 2.3, 2.0, 1.8, 1.6, 1.45, 1.3, 1.15, 1.0];
const p13_lo = [0, 0.4, 0.9, 1.5, 2.3, 3.2, 4.2, 5.3, 6.4, 7.4, 8.2, 8.55, 8.6, 8.3, 7.8, 7.0, 6.0, 5.0, 4.0, 3.1, 2.4, 1.8, 1.4, 1.1, 0.8, 0.6, 0.5, 0.45, 0.4, 0.35, 0.3, 0.27];
const p13_tr = [0, 1.0, 2.2, 3.6, 5.2, 6.9, 8.5, 9.9, 11.0, 11.7, 12.0, 11.9, 11.6, 11.0, 10.1, 8.9, 7.6, 6.2, 4.9, 3.8, 3.0, 2.5, 2.1, 1.9, 1.7, 1.6, 1.5, 1.4, 1.3, 1.2, 1.1, 1.0];
const p13_mw = [0, 25, 50, 75, 100, 125, 150, 175, 200, 225, 250, 275, 300, 325, 350, 375, 400];
const p13_mec = [0, 0.02, 0.15, 0.4, 0.7, 1.1, 1.6, 2.2, 3.0, 3.9, 4.55, 4.9, 4.45, 3.4, 2.35, 1.6, 1.2];
const p13_mzX = [5.3, 9.7, 15, 19.8, 25.1, 30.4, 35.3, 40.6, 45.9, 50.7, 55.6, 60.9, 66.2, 71.4, 75.9, 81.1, 86, 91.3, 95.7, 100.1, 105.4, 110.3, 115.5, 120, 125.7, 130.1, 135.4, 140.2, 145.5, 150.4, 155.2, 160.5, 166.3, 172, 176.4, 181.7, 187, 192.7, 198, 203.7, 208.2, 213.5, 218.3, 223.6, 228, 233.3, 238.1, 243.4, 248.7, 253.6, 258.9, 263.7, 269, 274.3, 279.6, 284.5, 289.7, 295, 299.9, 305.2, 310.5, 315.3, 320.6, 325.9, 330.8, 336.1, 341.3, 346.2, 351.5, 358.1, 363.4, 368.2, 373.5, 378, 383.7];
const p13_mzY = [0.86, 0.86, 1.6, 2.4, 3.5, 4.5, 6.2, 6.9, 8.15, 9.5, 10.1, 11.4, 12.0, 13.0, 14.4, 15.3, 16.6, 17.9, 18.5, 21.5, 20.9, 21.4, 22.1, 22.8, 22.2, 21.7, 20.9, 20.5, 20.1, 19.2, 17.9, 17.4, 16.1, 14.7, 14.2, 13.6, 12.3, 11.5, 10.3, 9.6, 9.4, 9.1, 8.95, 8.5, 8.6, 8.0, 9.1, 9.5, 9.85, 10.1, 9.8, 9.6, 10.4, 10.6, 11.7, 11.7, 12.1, 12.9, 13.1, 12.8, 13.3, 13.9, 14.9, 14.1, 12.9, 12.3, 13.6, 11.7, 12.1, 10.7, 8.8, 7.8, 9.75, 8.6, 5.1];
const p13_mzE = [0.15, 0.15, 0.2, 0.25, 0.3, 0.3, 0.35, 0.35, 0.4, 0.4, 0.4, 0.45, 0.45, 0.5, 0.5, 0.5, 0.55, 0.55, 0.6, 0.7, 0.6, 0.6, 0.6, 0.7, 0.6, 0.6, 0.55, 0.55, 0.5, 0.5, 0.5, 0.5, 0.5, 0.5, 0.5, 0.5, 0.45, 0.45, 0.45, 0.45, 0.45, 0.45, 0.45, 0.45, 0.45, 0.45, 0.45, 0.5, 0.5, 0.5, 0.5, 0.5, 0.55, 0.55, 0.55, 0.6, 0.6, 0.6, 0.65, 0.65, 0.7, 0.7, 0.8, 0.8, 0.8, 0.9, 1.2, 1.3, 1.3, 1.8, 2.0, 2.2, 2.8, 3.2, 3.7];

// ================= Panel 14: Ei=500 MeV, 60 deg =================
const p14_w = [12, 20, 30, 40, 50, 60, 70, 80, 90, 100, 110, 120, 130, 140, 150, 160, 170, 180, 190, 200, 210, 220, 230, 240, 250, 260, 270, 280, 290, 300];
const p14_c2 = [0, 0.6, 2.0, 3.8, 6.0, 8.3, 10.8, 13.1, 15.0, 16.6, 17.5, 17.9, 18.0, 17.7, 17.0, 15.8, 14.0, 11.8, 9.5, 7.6, 6.0, 4.8, 4.0, 3.4, 3.0, 2.65, 2.4, 2.25, 2.1, 2.0];
const p14_c1 = [0, 0.45, 1.6, 3.3, 5.3, 7.4, 9.7, 11.8, 13.7, 15.1, 15.9, 16.3, 16.35, 16.2, 15.6, 14.5, 12.9, 11.0, 9.0, 7.2, 5.7, 4.6, 3.8, 3.25, 2.85, 2.55, 2.35, 2.2, 2.05, 1.95];
const p14_gh = [0, 0.7, 2.3, 4.3, 6.7, 9.3, 12.0, 14.5, 16.6, 18.2, 19.2, 19.6, 19.6, 19.2, 18.2, 16.7, 14.6, 12.2, 9.7, 7.6, 6.0, 4.8, 4.0, 3.4, 3.0, 2.7, 2.5, 2.35, 2.2, 2.1];
const p14_gl = [0, 0.55, 1.85, 3.6, 5.7, 7.9, 10.3, 12.6, 14.5, 16.1, 17.0, 17.4, 17.5, 17.2, 16.5, 15.3, 13.5, 11.3, 9.1, 7.1, 5.5, 4.3, 3.4, 2.8, 2.35, 2.0, 1.8, 1.65, 1.55, 1.5];
const p14_bh = [0, 0.5, 1.8, 3.5, 5.6, 7.8, 10.1, 12.4, 14.3, 15.9, 16.8, 17.2, 17.3, 17.0, 16.3, 15.1, 13.3, 11.2, 9.0, 7.1, 5.5, 4.4, 3.5, 2.9, 2.5, 2.2, 2.0, 1.85, 1.75, 1.7];
const p14_bl = [0, 0.4, 1.5, 3.1, 5.0, 7.0, 9.2, 11.3, 13.2, 14.6, 15.5, 15.9, 16.0, 15.8, 15.2, 14.1, 12.5, 10.6, 8.6, 6.8, 5.3, 4.2, 3.4, 2.9, 2.5, 2.2, 2.0, 1.85, 1.75, 1.7];
const p14_lo = [0, 0.2, 0.6, 1.2, 1.9, 2.8, 3.8, 4.8, 5.7, 6.4, 6.9, 7.2, 7.25, 7.2, 6.9, 6.4, 5.7, 4.9, 4.0, 3.2, 2.5, 2.0, 1.6, 1.3, 1.1, 0.9, 0.8, 0.7, 0.65, 0.6];
const p14_tr = [0, 0.4, 1.3, 2.6, 4.1, 5.7, 7.3, 8.7, 9.7, 10.3, 10.7, 10.8, 10.7, 10.4, 9.9, 9.1, 8.0, 6.8, 5.6, 4.5, 3.6, 2.9, 2.45, 2.1, 1.9, 1.75, 1.65, 1.55, 1.5, 1.45];
const p14_mw = [0, 25, 50, 75, 100, 125, 150, 175, 200, 225, 250, 265, 280, 300];
const p14_mec = [0, 0.03, 0.15, 0.4, 0.75, 1.15, 1.6, 2.1, 2.75, 3.55, 4.2, 4.45, 4.55, 4.45];
const p14_whX = [36.1, 45.9, 56, 65.8, 75.3, 85.7, 95.5, 105, 114.8, 125.2, 135, 144.8, 154.9, 164.7, 174.5, 184.3, 194.1, 203.5, 213.6, 223.8, 233.5, 243.3, 253.1, 262.9, 272.7, 282.8, 292.9];
const p14_whY = [2.72, 4.16, 6.65, 8.73, 11.2, 13.2, 15.6, 17.5, 18.6, 19.4, 20.8, 20.8, 18.5, 18.7, 16.1, 14.7, 12.3, 10.0, 9.7, 8.3, 8.6, 8.2, 8.6, 8.7, 8.7, 9.8, 10.2];
const p14_whE = [0.2, 0.25, 0.3, 0.35, 0.4, 0.5, 0.5, 0.6, 0.65, 0.75, 0.8, 0.8, 0.7, 0.75, 0.65, 0.55, 0.45, 0.4, 0.4, 0.35, 0.4, 0.4, 0.4, 0.45, 0.45, 0.5, 0.5];

// ================= Panel 15: Ei=681 MeV, 45.5 deg =================
const p15_w = [15, 25, 40, 50, 60, 75, 90, 100, 110, 120, 130, 145, 155, 165, 175, 190, 200, 210, 220, 230, 240, 250, 260, 275, 300, 325, 350, 375, 400, 425, 450, 475, 500];
const p15_c2 = [0, 0.5, 2.3, 4.0, 6.0, 9.8, 14.2, 17.3, 20.2, 22.3, 23.5, 24.0, 23.7, 22.8, 21.3, 18.0, 15.5, 12.8, 10.3, 8.2, 6.6, 5.4, 4.6, 3.8, 3.1, 2.7, 2.35, 2.05, 1.8, 1.55, 1.3, 1.1, 0.95];
const p15_c1 = [0, 0.4, 1.95, 3.4, 5.2, 8.6, 12.6, 15.5, 18.2, 20.2, 21.5, 22.0, 21.8, 21.1, 19.8, 16.9, 14.6, 12.1, 9.8, 7.8, 6.3, 5.2, 4.4, 3.6, 2.95, 2.55, 2.2, 1.95, 1.7, 1.5, 1.3, 1.1, 0.95];
const p15_gh = [0, 0.6, 2.6, 4.5, 6.7, 10.9, 15.8, 19.2, 22.3, 24.5, 25.7, 26.1, 25.7, 24.6, 22.8, 19.0, 16.2, 13.2, 10.5, 8.3, 6.6, 5.4, 4.6, 3.8, 3.1, 2.7, 2.35, 2.0, 1.75, 1.5, 1.3, 1.1, 1.0];
const p15_gl = [0, 0.45, 2.1, 3.7, 5.6, 9.2, 13.5, 16.6, 19.5, 21.6, 22.9, 23.4, 23.1, 22.2, 20.7, 17.4, 14.9, 12.2, 9.7, 7.6, 6.0, 4.8, 3.9, 3.1, 2.4, 2.0, 1.7, 1.45, 1.25, 1.1, 0.95, 0.85, 0.8];
const p15_bh = [0, 0.42, 2.0, 3.6, 5.4, 9.0, 13.2, 16.2, 19.1, 21.2, 22.5, 23.0, 22.7, 21.9, 20.4, 17.2, 14.8, 12.1, 9.7, 7.6, 6.1, 4.9, 4.1, 3.3, 2.7, 2.3, 2.0, 1.75, 1.55, 1.35, 1.2, 1.05, 0.95];
const p15_bl = [0, 0.35, 1.8, 3.2, 4.9, 8.2, 12.0, 14.8, 17.5, 19.5, 20.8, 21.4, 21.2, 20.5, 19.2, 16.3, 14.1, 11.7, 9.4, 7.4, 5.9, 4.8, 4.0, 3.2, 2.6, 2.2, 1.9, 1.65, 1.45, 1.3, 1.15, 1.0, 0.9];
const p15_lo = [0, 0.1, 0.7, 1.3, 2.0, 3.4, 5.1, 6.4, 7.7, 8.8, 9.6, 10.1, 10.15, 9.9, 9.3, 8.1, 7.1, 6.0, 4.9, 4.0, 3.3, 2.7, 2.2, 1.6, 1.0, 0.65, 0.45, 0.32, 0.25, 0.2, 0.15, 0.12, 0.1];
const p15_tr = [0, 0.35, 1.6, 2.7, 4.0, 6.3, 9.0, 10.9, 12.4, 13.4, 13.9, 13.95, 13.6, 12.9, 11.9, 10.0, 8.6, 7.1, 5.8, 4.7, 3.8, 3.2, 2.7, 2.25, 1.9, 1.7, 1.55, 1.4, 1.3, 1.2, 1.1, 1.0, 0.95];
const p15_mw = [0, 50, 100, 150, 200, 250, 275, 300, 325, 350, 375, 400, 425, 450, 475, 500];
const p15_mec = [0, 0.2, 0.75, 1.65, 3.0, 4.8, 5.6, 6.05, 5.9, 5.2, 4.0, 2.9, 1.95, 1.35, 1.05, 0.9];
const p15_wiX = [17.9, 52.8, 96.3, 140.9, 184.4, 222.8, 257.2, 292.5, 326.8, 356, 384.7, 412.4, 436.5, 459, 479.5];
const p15_wiY = [1.07, 7.02, 18.3, 25.4, 21.9, 15.3, 12.2, 12.7, 14.5, 16.0, 16.8, 16.3, 15.1, 14.9, 14.1];
const p15_wiE = [0.1, 0.2, 0.25, 0.3, 0.25, 0.2, 0.2, 0.2, 0.2, 0.2, 0.2, 0.2, 0.2, 0.2, 0.2];

// ================= layout & styles =================
const COL_LEFT = [0, 410, 820];
const COL_W = [410, 410, 412];
const PLOT_L = [76, 455, 859];
const PLOT_R = [378, 782, 1184];
const PLOT_T = [32, 379, 727, 1074, 1421];
const PLOT_B = [308, 655, 1002, 1349, 1682];

const COL = {
  green: "#90ee90",
  greenFill: "rgba(144,238,144,0.32)",
  blue: "#add8e6",
  blueFill: "rgba(173,216,230,0.32)",
  dkgreen: "#006400",
  navy: "#00008b",
  khaki: "#c8b45c",
  olive: "#808000",
  purple: "#94449a",
  mez: "#555555",
  wil: "#4169e1",
  whi: "#a0a0a0",
};
const DASH = {
  blue: [7, 4],
  navy: [8, 4],
  khaki: [3, 3],
  olive: [8, 3, 2, 3, 2, 3],
  purple: [9, 3, 2, 3],
};
type Kind = "mez" | "wil" | "whi";
const MARK: Record<Kind, { style: string; r: number; w: number; color: string }> = {
  mez: { style: "crossRot", r: 5.5, w: 1.5, color: COL.mez },
  wil: { style: "cross", r: 4, w: 1.8, color: COL.wil },
  whi: { style: "star", r: 4.5, w: 1.4, color: COL.whi },
};

type Pts = { x: number[]; y: number[]; e: number[]; kind: Kind };
type Cfg = {
  row: number; col: number; title: [string, string, string];
  xmax: number; xstep: number; ymax: number; ystep: number;
  w: number[]; gh: number[]; gl: number[]; bh: number[]; bl: number[];
  c2: number[]; c1: number[]; lo: number[]; tr: number[];
  mw: number[]; mec: number[]; pts: Pts[]; legend?: "main" | "wil" | "whi";
};

const PANELS: Cfg[] = [
  { row: 0, col: 0, title: ["Ei=160 MeV, Θ", "e", "=60 deg"], xmax: 80, xstep: 10, ymax: 1000, ystep: 100,
    w: p1_w, gh: p1_gh, gl: p1_gl, bh: p1_bh, bl: p1_bl, c2: p1_c2, c1: p1_c1, lo: p1_lo, tr: p1_tr, mw: p1_mw, mec: p1_mec,
    pts: [{ x: p1_mzX, y: p1_mzY, e: p1_mzE, kind: "mez" }], legend: "main" },
  { row: 0, col: 1, title: ["Ei=200 MeV, Θ", "e", "=60 deg"], xmax: 110, xstep: 20, ymax: 550, ystep: 100,
    w: p2_w, gh: p2_gh, gl: p2_gl, bh: p2_bh, bl: p2_bl, c2: p2_c2, c1: p2_c1, lo: p2_lo, tr: p2_tr, mw: p2_mw, mec: p2_mec,
    pts: [{ x: p2_mzX, y: p2_mzY, e: p2_mzE, kind: "mez" }] },
  { row: 0, col: 2, title: ["Ei=200 MeV, Θ", "e", "=90 deg"], xmax: 140, xstep: 20, ymax: 60, ystep: 10,
    w: p3_w, gh: p3_gh, gl: p3_gl, bh: p3_bh, bl: p3_bl, c2: p3_c2, c1: p3_c1, lo: p3_lo, tr: p3_tr, mw: p3_mw, mec: p3_mec,
    pts: [{ x: p3_mzX, y: p3_mzY, e: p3_mzE, kind: "mez" }, { x: p3_wiX, y: p3_wiY, e: p3_wiE, kind: "wil" }], legend: "wil" },
  { row: 1, col: 0, title: ["Ei=240 MeV, Θ", "e", "=60 deg"], xmax: 130, xstep: 20, ymax: 300, ystep: 50,
    w: p4_w, gh: p4_gh, gl: p4_gl, bh: p4_bh, bl: p4_bl, c2: p4_c2, c1: p4_c1, lo: p4_lo, tr: p4_tr, mw: p4_mw, mec: p4_mec,
    pts: [{ x: p4_mzX, y: p4_mzY, e: p4_mzE, kind: "mez" }] },
  { row: 1, col: 1, title: ["Ei=298 MeV, Θ", "e", "=90 deg"], xmax: 200, xstep: 20, ymax: 18, ystep: 2,
    w: p5_w, gh: p5_gh, gl: p5_gl, bh: p5_bh, bl: p5_bl, c2: p5_c2, c1: p5_c1, lo: p5_lo, tr: p5_tr, mw: p5_mw, mec: p5_mec,
    pts: [{ x: p5_wiX, y: p5_wiY, e: p5_wiE, kind: "wil" }] },
  { row: 1, col: 2, title: ["Ei=320 MeV, Θ", "e", "=140 deg"], xmax: 250, xstep: 50, ymax: 4.5, ystep: 0.5,
    w: p6_w, gh: p6_gh, gl: p6_gl, bh: p6_bh, bl: p6_bl, c2: p6_c2, c1: p6_c1, lo: p6_lo, tr: p6_tr, mw: p6_mw, mec: p6_mec,
    pts: [{ x: p6_mzX, y: p6_mzY, e: p6_mzE, kind: "mez" }] },
  { row: 2, col: 0, title: ["Ei=327 MeV, Θ", "e", "=140 deg"], xmax: 265, xstep: 50, ymax: 4, ystep: 0.5,
    w: p7_w, gh: p7_gh, gl: p7_gl, bh: p7_bh, bl: p7_bl, c2: p7_c2, c1: p7_c1, lo: p7_lo, tr: p7_tr, mw: p7_mw, mec: p7_mec,
    pts: [{ x: p7_wiX, y: p7_wiY, e: p7_wiE, kind: "wil" }] },
  { row: 2, col: 1, title: ["Ei=340 MeV, Θ", "e", "=60 deg"], xmax: 230, xstep: 50, ymax: 70, ystep: 10,
    w: p8_w, gh: p8_gh, gl: p8_gl, bh: p8_bh, bl: p8_bl, c2: p8_c2, c1: p8_c1, lo: p8_lo, tr: p8_tr, mw: p8_mw, mec: p8_mec,
    pts: [{ x: p8_mzX, y: p8_mzY, e: p8_mzE, kind: "mez" }] },
  { row: 2, col: 2, title: ["Ei=360 MeV, Θ", "e", "=90 deg"], xmax: 270, xstep: 50, ymax: 12, ystep: 2,
    w: p9_w, gh: p9_gh, gl: p9_gl, bh: p9_bh, bl: p9_bl, c2: p9_c2, c1: p9_c1, lo: p9_lo, tr: p9_tr, mw: p9_mw, mec: p9_mec,
    pts: [{ x: p9_mzX, y: p9_mzY, e: p9_mzE, kind: "mez" }] },
  { row: 3, col: 0, title: ["Ei=372 MeV, Θ", "e", "=90 deg"], xmax: 275, xstep: 50, ymax: 9, ystep: 1,
    w: p10_w, gh: p10_gh, gl: p10_gl, bh: p10_bh, bl: p10_bl, c2: p10_c2, c1: p10_c1, lo: p10_lo, tr: p10_tr, mw: p10_mw, mec: p10_mec,
    pts: [{ x: p10_wiX, y: p10_wiY, e: p10_wiE, kind: "wil" }] },
  { row: 3, col: 1, title: ["Ei=400 MeV, Θ", "e", "=140 deg"], xmax: 350, xstep: 50, ymax: 3, ystep: 0.5,
    w: p11_w, gh: p11_gh, gl: p11_gl, bh: p11_bh, bl: p11_bl, c2: p11_c2, c1: p11_c1, lo: p11_lo, tr: p11_tr, mw: p11_mw, mec: p11_mec,
    pts: [{ x: p11_mzX, y: p11_mzY, e: p11_mzE, kind: "mez" }] },
  { row: 3, col: 2, title: ["Ei=471 MeV, Θ", "e", "=45.5 deg"], xmax: 300, xstep: 50, ymax: 100, ystep: 10,
    w: p12_w, gh: p12_gh, gl: p12_gl, bh: p12_bh, bl: p12_bl, c2: p12_c2, c1: p12_c1, lo: p12_lo, tr: p12_tr, mw: p12_mw, mec: p12_mec,
    pts: [{ x: p12_wiX, y: p12_wiY, e: p12_wiE, kind: "wil" }] },
  { row: 4, col: 0, title: ["Ei=480 MeV, Θ", "e", "=60 deg"], xmax: 400, xstep: 50, ymax: 25, ystep: 5,
    w: p13_w, gh: p13_gh, gl: p13_gl, bh: p13_bh, bl: p13_bl, c2: p13_c2, c1: p13_c1, lo: p13_lo, tr: p13_tr, mw: p13_mw, mec: p13_mec,
    pts: [{ x: p13_mzX, y: p13_mzY, e: p13_mzE, kind: "mez" }] },
  { row: 4, col: 1, title: ["Ei=500 MeV, Θ", "e", "=60 deg"], xmax: 300, xstep: 50, ymax: 25, ystep: 5,
    w: p14_w, gh: p14_gh, gl: p14_gl, bh: p14_bh, bl: p14_bl, c2: p14_c2, c1: p14_c1, lo: p14_lo, tr: p14_tr, mw: p14_mw, mec: p14_mec,
    pts: [{ x: p14_whX, y: p14_whY, e: p14_whE, kind: "whi" }], legend: "whi" },
  { row: 4, col: 2, title: ["Ei=681 MeV, Θ", "e", "=45.5 deg"], xmax: 500, xstep: 50, ymax: 30, ystep: 5,
    w: p15_w, gh: p15_gh, gl: p15_gl, bh: p15_bh, bl: p15_bl, c2: p15_c2, c1: p15_c1, lo: p15_lo, tr: p15_tr, mw: p15_mw, mec: p15_mec,
    pts: [{ x: p15_wiX, y: p15_wiY, e: p15_wiE, kind: "wil" }] },
];

type LegendItem = { label: string; color?: string; dash?: number[]; width?: number; kind?: Kind };
const LEGENDS: Record<string, LegendItem[]> = {
  main: [
    { label: "Total 1b", color: COL.blue, dash: DASH.blue, width: 1.8 },
    { label: "Total 1b+2b", color: COL.green, dash: [], width: 2 },
    { label: "Longitudinal 1b+2b", color: COL.khaki, dash: DASH.khaki, width: 1.6 },
    { label: "Transverse 1b+2b", color: COL.olive, dash: DASH.olive, width: 1.6 },
    { label: "2p-2h MEC RFG", color: COL.purple, dash: DASH.purple, width: 1.6 },
    { label: "Meziani data", kind: "mez" },
  ],
  wil: [{ label: "Williamson data", kind: "wil" }],
  whi: [{ label: "Whitney data", kind: "whi" }],
};

const xy = (xs: number[], ys: number[]) => xs.map((x, i) => ({ x, y: ys[i] }));

function drawMarker(ctx: CanvasRenderingContext2D, kind: Kind, x: number, y: number) {
  const m = MARK[kind];
  ctx.save();
  ctx.strokeStyle = m.color;
  ctx.lineWidth = m.w;
  ctx.setLineDash([]);
  ctx.beginPath();
  if (kind === "mez") {
    const d = m.r * Math.SQRT1_2;
    ctx.moveTo(x - d, y - d); ctx.lineTo(x + d, y + d);
    ctx.moveTo(x - d, y + d); ctx.lineTo(x + d, y - d);
  } else if (kind === "wil") {
    ctx.moveTo(x - m.r, y); ctx.lineTo(x + m.r, y);
    ctx.moveTo(x, y - m.r); ctx.lineTo(x, y + m.r);
  } else {
    const d = m.r * Math.SQRT1_2;
    ctx.moveTo(x - m.r, y); ctx.lineTo(x + m.r, y);
    ctx.moveTo(x, y - m.r); ctx.lineTo(x, y + m.r);
    ctx.moveTo(x - d, y - d); ctx.lineTo(x + d, y + d);
    ctx.moveTo(x - d, y + d); ctx.lineTo(x + d, y - d);
  }
  ctx.stroke();
  ctx.restore();
}

function makePlugin(p: Cfg, canvasTop: number) {
  return {
    id: "decor",
    afterDatasetsDraw(chart: any) {
      const ctx: CanvasRenderingContext2D = chart.ctx;
      const a = chart.chartArea;
      const xs = chart.scales.x;
      const ys = chart.scales.y;
      // error bars
      chart.data.datasets.forEach((ds: any) => {
        if (!ds.errs) return;
        ctx.save();
        ctx.beginPath();
        ctx.rect(a.left, a.top, a.right - a.left, a.bottom - a.top);
        ctx.clip();
        ctx.strokeStyle = ds.borderColor;
        ctx.lineWidth = 1.4;
        ctx.setLineDash([]);
        ds.data.forEach((pt: any, i: number) => {
          const e = ds.errs[i];
          const px = xs.getPixelForValue(pt.x);
          const y1 = ys.getPixelForValue(pt.y - e);
          const y2 = ys.getPixelForValue(pt.y + e);
          ctx.beginPath();
          ctx.moveTo(px, y1); ctx.lineTo(px, y2);
          ctx.moveTo(px - 3.5, y1); ctx.lineTo(px + 3.5, y1);
          ctx.moveTo(px - 3.5, y2); ctx.lineTo(px + 3.5, y2);
          ctx.stroke();
        });
        ctx.restore();
      });
      // frame + inward ticks on all four sides
      ctx.save();
      ctx.strokeStyle = "#000";
      ctx.lineWidth = 1.2;
      ctx.setLineDash([]);
      ctx.strokeRect(a.left, a.top, a.right - a.left, a.bottom - a.top);
      ctx.beginPath();
      xs.ticks.forEach((t: any) => {
        const px = Math.round(xs.getPixelForValue(t.value)) + 0.5;
        ctx.moveTo(px, a.bottom); ctx.lineTo(px, a.bottom - 6);
        ctx.moveTo(px, a.top); ctx.lineTo(px, a.top + 6);
      });
      ys.ticks.forEach((t: any) => {
        const py = Math.round(ys.getPixelForValue(t.value)) + 0.5;
        ctx.moveTo(a.left, py); ctx.lineTo(a.left + 6, py);
        ctx.moveTo(a.right, py); ctx.lineTo(a.right - 6, py);
      });
      ctx.stroke();
      ctx.restore();
    },
    afterDraw(chart: any) {
      const ctx: CanvasRenderingContext2D = chart.ctx;
      const a = chart.chartArea;
      ctx.save();
      ctx.fillStyle = "#000";
      ctx.textBaseline = "middle";
      // title with subscript
      const big = `17px ${FONT}`;
      const small = `12px ${FONT}`;
      ctx.font = big;
      const w1 = ctx.measureText(p.title[0]).width;
      const w3 = ctx.measureText(p.title[2]).width;
      ctx.font = small;
      const w2 = ctx.measureText(p.title[1]).width;
      let tx = (a.left + a.right) / 2 - (w1 + w2 + w3) / 2;
      const ty = a.top - 19;
      ctx.textAlign = "left";
      ctx.font = big;
      ctx.fillText(p.title[0], tx, ty);
      tx += w1;
      ctx.font = small;
      ctx.fillText(p.title[1], tx + 0.5, ty + 5);
      tx += w2 + 0.5;
      ctx.font = big;
      ctx.fillText(p.title[2], tx, ty);
      // y axis label (left column)
      if (p.col === 0) {
        ctx.save();
        ctx.translate(29, (a.top + a.bottom) / 2 + 13);
        ctx.rotate(-Math.PI / 2);
        ctx.font = `17px ${FONT}`;
        (ctx as any).letterSpacing = "1.9px";
        ctx.textAlign = "center";
        ctx.textBaseline = "alphabetic";
        ctx.fillText("dσ/dΩdE (nb/sr/MeV)", 0, 0);
        ctx.restore();
      }
      // x axis label (bottom row)
      if (p.row === 4) {
        ctx.font = `17.5px ${FONT}`;
        ctx.textAlign = "center";
        ctx.textBaseline = "middle";
        ctx.fillText("ω (MeV)", (a.left + a.right) / 2, 1713 - canvasTop);
      }
      // legend
      if (p.legend) {
        const items = LEGENDS[p.legend];
        const sx1 = a.right - 61;
        const sx2 = a.right - 16;
        items.forEach((it, i) => {
          const ly = a.top + 16 + i * 19.2;
          ctx.font = `16px ${FONT}`;
          ctx.textAlign = "right";
          ctx.textBaseline = "middle";
          ctx.fillStyle = "#000";
          ctx.fillText(it.label, a.right - 72, ly);
          ctx.save();
          if (it.kind) {
            const c = MARK[it.kind].color;
            ctx.strokeStyle = c;
            ctx.lineWidth = 1.5;
            ctx.setLineDash([]);
            ctx.beginPath();
            ctx.moveTo(sx1, ly); ctx.lineTo(sx2, ly);
            ctx.moveTo(sx1, ly - 4); ctx.lineTo(sx1, ly + 4);
            ctx.moveTo(sx2, ly - 4); ctx.lineTo(sx2, ly + 4);
            ctx.stroke();
            drawMarker(ctx, it.kind, (sx1 + sx2) / 2, ly);
          } else {
            ctx.strokeStyle = it.color!;
            ctx.lineWidth = it.width!;
            ctx.setLineDash(it.dash!);
            ctx.beginPath();
            ctx.moveTo(sx1, ly); ctx.lineTo(sx2, ly);
            ctx.stroke();
          }
          ctx.restore();
        });
      }
      ctx.restore();
    },
  };
}

const fmt = (v: any) => String(Math.round(Number(v) * 1000) / 1000);

function PanelChart({ p }: { p: Cfg }) {
  const ref = useRef<HTMLCanvasElement>(null);
  const cl = COL_LEFT[p.col];
  const cw = COL_W[p.col];
  const ct = PLOT_T[p.row] - 32;
  const cb = p.row === 4 ? 1727 : PLOT_B[p.row] + 30;
  const ch = cb - ct;
  useEffect(() => {
    if (!ref.current) return;
    const yW = PLOT_L[p.col] - cl;
    const padR = cl + cw - PLOT_R[p.col];
    const padT = PLOT_T[p.row] - ct;
    const xH = cb - PLOT_B[p.row];
    const line = (data: any[], color: string, dash: number[], width: number, order: number, extra: any = {}) => ({
      type: "line",
      data,
      borderColor: color,
      borderDash: dash,
      borderWidth: width,
      pointRadius: 0,
      fill: false,
      cubicInterpolationMode: "monotone",
      order,
      ...extra,
    });
    const datasets: any[] = [
      line(xy(p.w, p.gl), COL.green, [], 1.5, 10),
      line(xy(p.w, p.gh), COL.green, [], 1.5, 10, { fill: "-1", backgroundColor: COL.greenFill }),
      line(xy(p.w, p.bl), COL.blue, DASH.blue, 1.5, 9),
      line(xy(p.w, p.bh), COL.blue, DASH.blue, 1.5, 9, { fill: "-1", backgroundColor: COL.blueFill }),
      line(xy(p.mw, p.mec), COL.purple, DASH.purple, 1.5, 6),
      line(xy(p.w, p.lo), COL.khaki, DASH.khaki, 1.5, 6),
      line(xy(p.w, p.tr), COL.olive, DASH.olive, 1.5, 5),
      line(xy(p.w, p.c2), COL.dkgreen, [], 2, 4),
      line(xy(p.w, p.c1), COL.navy, DASH.navy, 2, 3),
    ];
    p.pts.forEach((s) => {
      const m = MARK[s.kind];
      datasets.push({
        type: "line",
        data: xy(s.x, s.y),
        errs: s.e,
        showLine: false,
        borderColor: m.color,
        backgroundColor: m.color,
        pointStyle: m.style,
        pointRadius: m.r,
        pointBorderWidth: m.w,
        pointBorderColor: m.color,
        order: 0,
      });
    });
    const tickFont = { family: FONT, size: 16.5 };
    const chart = new Chart(ref.current, {
      type: "line",
      data: { datasets },
      options: {
        responsive: false,
        animation: false,
        events: [],
        layout: { padding: { top: padT, right: padR, left: 0, bottom: 0 } },
        plugins: { legend: { display: false }, tooltip: { enabled: false }, title: { display: false } },
        scales: {
          x: {
            type: "linear",
            min: 0,
            max: p.xmax,
            afterFit: (s: any) => { s.height = xH; },
            grid: { display: false, drawTicks: false },
            border: { display: false },
            ticks: { stepSize: p.xstep, autoSkip: false, maxRotation: 0, minRotation: 0, includeBounds: false, maxTicksLimit: 100, padding: 4, color: "#000", font: tickFont, callback: fmt },
          },
          y: {
            type: "linear",
            min: 0,
            max: p.ymax,
            afterFit: (s: any) => { s.width = yW; },
            grid: { display: false, drawTicks: false },
            border: { display: false },
            ticks: { stepSize: p.ystep, autoSkip: false, includeBounds: false, maxTicksLimit: 100, padding: 6, color: "#000", font: tickFont, callback: fmt },
          },
        },
      } as any,
      plugins: [makePlugin(p, ct)],
    } as any);
    return () => chart.destroy();
  }, []);
  return (
    <canvas
      ref={ref}
      width={cw}
      height={ch}
      style={{ position: "absolute", left: cl, top: ct, width: cw, height: ch }}
    />
  );
}

export default function App() {
  return (
    <div style={{ position: "absolute", left: 0, top: 0, width: 1232, height: 1727, background: "#fff" }}>
      {PANELS.map((p, i) => (
        <PanelChart key={i} p={p} />
      ))}
    </div>
  );
}
